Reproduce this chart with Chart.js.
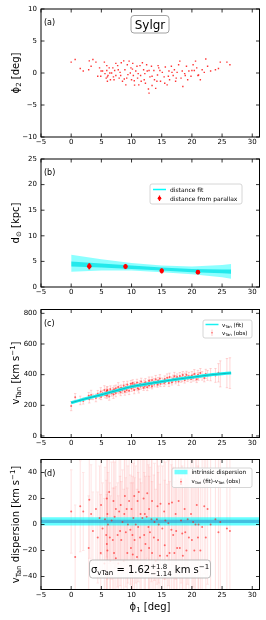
<!DOCTYPE html>
<html>
<head>
<meta charset="utf-8">
<script src="https://cdn.jsdelivr.net/npm/chart.js@4.4.0/dist/chart.umd.min.js"></script>
<style>
html, body { margin: 0; padding: 0; background: #fff; }
#wrap { position: relative; width: 266px; height: 620px; overflow: hidden; }
canvas { position: absolute; left: 0; }
</style>
</head>
<body>
<div id="wrap">
<canvas id="pa" width="266" height="150" style="top:0px"></canvas>
<canvas id="pb" width="266" height="150" style="top:150px"></canvas>
<canvas id="pc" width="266" height="150" style="top:300px"></canvas>
<canvas id="pd" width="266" height="170" style="top:450px"></canvas>
</div>
<script>
// ---- data ----
const xMin = -5, xMax = 31.2;
const xTicks = [-5, 0, 5, 10, 15, 20, 25, 30];

const phi1 = [0.0,0.66,1.5,2.0,2.9,3.0,3.3,3.6,4.1,4.4,
  4.7,4.9,4.95,5.2,5.5,5.6,5.8,5.9,5.9,6.0,
  6.0,6.1,6.3,6.4,6.5,6.7,6.9,7.0,7.1,7.2,
  7.4,7.4,7.7,7.8,7.95,8.1,8.2,8.3,8.5,8.7,
  8.8,8.9,9.05,9.2,9.3,9.4,9.6,9.8,9.9,10.0,
  10.15,10.2,10.3,10.45,10.5,10.7,10.9,11.0,11.1,11.2,
  11.4,11.5,11.6,11.8,12.0,12.1,12.2,12.3,12.5,12.6,
  12.8,12.9,12.9,13.05,13.3,13.4,13.4,13.7,13.8,14.0,
  14.2,14.3,14.4,14.5,14.7,14.8,15.1,15.4,15.5,15.6,
  15.9,16.1,16.2,16.3,16.6,16.7,16.9,17.1,17.3,17.4,
  17.55,17.8,18.0,18.2,18.4,18.5,18.8,18.9,19.1,19.3,
  19.5,19.85,20.0,20.2,20.4,20.6,20.8,21.0,21.1,21.4,
  21.7,22.05,22.3,22.6,23.1,23.9,24.4,24.7,25.8,26.3];

const phi2 = [1.7,2.1,0.7,0.3,0.5,1.9,1.05,2.1,1.7,-0.5,
  0.8,-0.5,0.3,0.3,1.7,-0.1,-0.8,0.4,1.15,-1.3,
  -0.6,-0.4,0.8,0,-1.05,0,0.8,-0.6,-1.05,0.4,
  -0.4,1.5,1.15,0.5,-0.8,0.1,-0.4,1.6,-1.3,1.9,
  -0.95,0.5,-1.85,-0.8,1.3,-0.25,1.85,0,0.8,-1.05,
  0.6,1.5,-0.4,-1.2,-1.9,0.3,1.05,-0.8,-0.1,-1.85,
  1.15,-0.4,-1.3,1.6,0.5,-1.05,-0.1,-1.6,1.3,0.3,
  -2.5,-3.15,0.4,-0.6,1.05,-1.95,-0.5,0.4,-1.05,-2.4,
  -1.3,-0.3,1.15,0.8,0.4,-1.3,0.1,-0.6,-1.6,0.95,
  -1.85,-0.5,0.3,-1.05,1.05,0.1,-0.4,0.5,-1.3,-0.8,
  0.1,1.3,1.85,-0.8,0.3,-2.1,-0.1,-0.4,1.05,-1.05,
  0.3,-0.5,0.4,1.3,0.4,1.85,0.8,-0.4,-0.3,-1.05,
  0.5,0.1,2.2,1.05,0.3,0.5,0.7,1.7,1.7,1.3];

// distance panel
const distX = [3, 9, 15, 21];
const distY = [4.05, 4.0, 3.15, 2.9];
const distErr = [0.6, 0.5, 0.5, 0.4];
const fitX = [0, 5, 10, 15, 20, 25, 26.5];
const distOuterHi = [6.3, 5.4, 4.7, 4.2, 4.0, 4.3, 4.5];
const distOuterLo = [3.0, 3.2, 3.2, 2.9, 2.5, 1.9, 1.6];
const distCoreHi = [5.0, 4.6, 4.2, 3.8, 3.5, 3.4, 3.4];
const distCoreLo = [4.0, 3.8, 3.5, 3.2, 2.9, 2.7, 2.6];

// tangential velocity panel
const vFitX = [0, 2.5, 5, 7.5, 10, 12.5, 15, 17.5, 20, 22.5, 25, 26.5];
const vFitY = [217, 244, 269, 296, 322, 339, 355, 370, 383, 396, 406, 411];
const vObs = [195,252,232,228,262,240,268,255,248,275,
  262,290,255,278,300,268,285,262,295,272,
  300,282,258,290,305,278,296,270,305,288,
  312,280,300,320,292,310,285,315,298,330,
  305,288,318,300,335,312,295,325,340,310,
  330,345,318,300,335,322,348,312,330,305,
  340,322,355,330,315,342,328,350,335,318,
  345,360,330,348,338,365,325,352,340,370,
  345,335,360,348,375,340,358,345,372,352,
  380,360,345,385,365,350,375,390,360,372,
  385,355,392,370,380,398,365,385,400,375,
  390,372,395,380,405,385,370,400,388,410,
  392,378,405,395,400,395,412,405,410,410];
const vErr = [30,25,28,20,22,25,30,18,25,22,
  20,25,18,20,28,20,22,18,25,20,
  22,18,25,20,22,18,20,25,22,18,
  20,24,20,28,18,20,22,18,20,25,
  18,22,20,18,22,20,25,18,22,20,
  18,22,20,25,18,20,22,18,20,25,
  20,18,22,20,18,22,20,25,18,22,
  20,25,18,20,22,20,18,22,20,25,
  20,18,22,20,25,18,20,22,20,18,
  25,20,22,25,20,18,22,25,20,22,
  20,25,22,20,25,22,20,25,22,20,
  25,22,25,22,28,25,22,28,25,30,
  28,25,30,32,40,45,60,85,95,100];

// dispersion panel
const resid = [10,-25,14,10,-18,19,8,-5,12,-10,
  5,-22,15,-3,-30,4,-8,20,-15,8,
  -20,0,25,-10,-28,3,-12,18,-22,6,
  -26,12,-8,-30,10,-5,15,-12,2,-28,
  8,22,-6,12,-22,0,18,-4,-18,12,
  -8,-23,5,22,-12,0,-25,18,-2,25,
  -10,8,-20,5,20,-8,8,-15,6,24,
  -2,-18,12,-6,4,-22,18,-10,2,-28,
  4,14,-12,0,-24,16,-3,10,-16,3,
  -24,1,16,-22,-4,17,-8,-22,8,-5,
  -18,18,-18,3,-7,-24,12,-6,-20,4,
  -10,8,-12,2,-20,0,15,-10,0,-20,
  -2,14,-10,12,0,4,-6,2,-3,-5];
const residErr = [32,40,35,30,40,45,38,30,42,35,
  40,45,38,35,50,40,42,45,38,50,
  45,40,55,42,50,45,40,48,50,42,
  55,45,40,52,45,42,48,45,40,55,
  45,50,42,48,50,45,52,42,50,48,
  45,55,42,50,48,45,52,48,42,55,
  45,48,52,45,50,48,45,52,45,50,
  48,55,45,50,48,55,50,48,45,55,
  50,48,52,45,55,50,48,52,50,45,
  55,48,52,55,50,48,52,55,50,48,
  52,55,50,48,52,55,50,48,55,50,
  52,48,55,50,55,52,50,55,52,58,
  55,52,60,58,60,62,65,70,70,75];
const bandX = [xMin, xMax];
const bandOuter = [-0.8, 5.5];
const bandInner = [1.1, 3.7];

// ---- helpers ----
const FONT = '"DejaVu Sans", sans-serif';
Chart.defaults.font.family = FONT;
Chart.defaults.color = '#000';

function pts(xs, ys) { return xs.map((x, i) => ({ x: x, y: ys[i] })); }
function flat(level) { return bandX.map(x => ({ x: x, y: level })); }
function fmt(v) { return v < 0 ? '\u2212' + Math.abs(v) : String(v); }

function segW(ctx, s, size) {
  const [t, k, t2] = s;
  if (!k) { ctx.font = size + 'px ' + FONT; return ctx.measureText(t).width; }
  ctx.font = (size * 0.7) + 'px ' + FONT;
  if (k === 'ss') return Math.max(ctx.measureText(t).width, ctx.measureText(t2).width);
  return ctx.measureText(t).width;
}

function drawRich(ctx, segs, x, y, size, align) {
  let total = 0;
  segs.forEach(s => { total += segW(ctx, s, size); });
  let cx = align === 'center' ? x - total / 2 : (align === 'right' ? x - total : x);
  ctx.textAlign = 'left';
  ctx.textBaseline = 'alphabetic';
  segs.forEach(s => {
    const w = segW(ctx, s, size);
    const [t, k, t2] = s;
    if (!k) ctx.fillText(t, cx, y);
    else if (k === 'sub') ctx.fillText(t, cx, y + size * 0.22);
    else if (k === 'sup') ctx.fillText(t, cx, y - size * 0.4);
    else { ctx.fillText(t, cx, y - size * 0.42); ctx.fillText(t2, cx, y + size * 0.26); }
    cx += w;
  });
}

function yTitle(ctx, segs, cy) {
  ctx.save();
  ctx.translate(15, cy);
  ctx.rotate(-Math.PI / 2);
  ctx.fillStyle = '#000';
  drawRich(ctx, segs, 0, 3.5, 10, 'center');
  ctx.restore();
}

function roundBox(ctx, x, y, w, h, r, stroke, fill) {
  ctx.beginPath();
  ctx.roundRect(x, y, w, h, r);
  ctx.fillStyle = fill;
  ctx.fill();
  ctx.strokeStyle = stroke;
  ctx.lineWidth = 0.8;
  ctx.stroke();
}

function label(ctx, txt, x, y) {
  ctx.fillStyle = '#000';
  ctx.font = '8px ' + FONT;
  ctx.textAlign = 'left';
  ctx.textBaseline = 'alphabetic';
  ctx.fillText(txt, x, y);
}

// frame and inward ticks on all four sides
const frameTicks = {
  id: 'frameTicks',
  afterDraw(chart) {
    const { ctx, chartArea: a, scales: { x, y } } = chart;
    ctx.save();
    ctx.strokeStyle = '#000';
    ctx.lineWidth = 0.8;
    ctx.beginPath();
    x.ticks.forEach(t => {
      const px = x.getPixelForValue(t.value);
      ctx.moveTo(px, a.bottom); ctx.lineTo(px, a.bottom - 3.5);
      ctx.moveTo(px, a.top); ctx.lineTo(px, a.top + 3.5);
    });
    y.ticks.forEach(t => {
      const py = y.getPixelForValue(t.value);
      ctx.moveTo(a.left, py); ctx.lineTo(a.left + 3.5, py);
      ctx.moveTo(a.right, py); ctx.lineTo(a.right - 3.5, py);
    });
    ctx.stroke();
    ctx.lineWidth = 1;
    ctx.strokeRect(a.left, a.top, a.right - a.left, a.bottom - a.top);
    ctx.restore();
  }
};

function errorBars(id, xs, ys, errs, color, width, cap) {
  return {
    id: id,
    beforeDatasetsDraw(chart) {
      const { ctx, chartArea: a, scales: { x, y } } = chart;
      ctx.save();
      ctx.beginPath();
      ctx.rect(a.left, a.top, a.right - a.left, a.bottom - a.top);
      ctx.clip();
      ctx.strokeStyle = color;
      ctx.lineWidth = width;
      xs.forEach((xv, i) => {
        const px = x.getPixelForValue(xv);
        const p1 = y.getPixelForValue(ys[i] - errs[i]);
        const p2 = y.getPixelForValue(ys[i] + errs[i]);
        ctx.beginPath();
        ctx.moveTo(px, p1); ctx.lineTo(px, p2);
        if (cap) {
          ctx.moveTo(px - cap, p1); ctx.lineTo(px + cap, p1);
          ctx.moveTo(px - cap, p2); ctx.lineTo(px + cap, p2);
        }
        ctx.stroke();
      });
      ctx.restore();
    }
  };
}

function scales(yMin, yMax, yTicks, xH) {
  return {
    x: {
      type: 'linear', min: xMin, max: xMax,
      grid: { display: false, drawTicks: false }, border: { display: false },
      afterBuildTicks: s => { s.ticks = xTicks.map(v => ({ value: v })); },
      afterFit: s => { s.height = xH; },
      ticks: { padding: 1, font: { size: 7 }, maxRotation: 0, autoSkip: false, callback: v => fmt(v) }
    },
    y: {
      type: 'linear', min: yMin, max: yMax,
      grid: { display: false, drawTicks: false }, border: { display: false },
      afterBuildTicks: s => { s.ticks = yTicks.map(v => ({ value: v })); },
      afterFit: s => { s.width = 41; },
      ticks: { padding: 4, font: { size: 7 }, autoSkip: false, callback: v => fmt(v) }
    }
  };
}

function baseOptions(yMin, yMax, yTicks, top, xH) {
  return {
    responsive: false,
    animation: false,
    events: [],
    layout: { padding: { top: top, right: 6.5, left: 0, bottom: 0 } },
    plugins: { legend: { display: false }, tooltip: { enabled: false } },
    scales: scales(yMin, yMax, yTicks, xH)
  };
}

// ---- panel (a) ----
new Chart(document.getElementById('pa'), {
  type: 'scatter',
  data: {
    datasets: [{
      data: pts(phi1, phi2),
      pointStyle: 'rect', pointRadius: 1, borderWidth: 0,
      backgroundColor: 'rgba(255,0,0,0.8)'
    }]
  },
  options: baseOptions(-10, 10, [-10, -5, 0, 5, 10], 9, 13),
  plugins: [frameTicks, {
    id: 'decoA',
    afterDraw(chart) {
      const ctx = chart.ctx;
      ctx.save();
      label(ctx, '(a)', 44, 25);
      roundBox(ctx, 131, 15.5, 38, 17.5, 3, '#8c8c8c', 'rgba(255,255,255,0.9)');
      ctx.fillStyle = '#000';
      ctx.font = '12px ' + FONT;
      ctx.textAlign = 'center';
      ctx.fillText('Sylgr', 150, 28.5);
      yTitle(ctx, [['\u03d5'], ['2', 'sub'], [' [deg]']], 73);
      ctx.restore();
    }
  }]
});

// ---- panel (b) ----
new Chart(document.getElementById('pb'), {
  type: 'scatter',
  data: {
    datasets: [
      { data: pts(distX, distY), pointRadius: 2.3, borderWidth: 0, backgroundColor: '#ff0000' },
      { type: 'line', data: pts(fitX, distCoreHi), borderWidth: 0, pointRadius: 0, fill: '+1', backgroundColor: 'rgba(0,225,230,0.75)' },
      { type: 'line', data: pts(fitX, distCoreLo), borderWidth: 0, pointRadius: 0, fill: false },
      { type: 'line', data: pts(fitX, distOuterHi), borderWidth: 0, pointRadius: 0, fill: '+1', backgroundColor: 'rgba(0,255,255,0.45)' },
      { type: 'line', data: pts(fitX, distOuterLo), borderWidth: 0, pointRadius: 0, fill: false }
    ]
  },
  options: baseOptions(0, 25, [0, 5, 10, 15, 20, 25], 9, 13),
  plugins: [frameTicks, {
    id: 'errB',
    afterDatasetsDraw(chart) {
      const { ctx, scales: { x, y } } = chart;
      ctx.save();
      ctx.strokeStyle = '#ff0000';
      ctx.lineWidth = 1.8;
      distX.forEach((xv, i) => {
        const px = x.getPixelForValue(xv);
        ctx.beginPath();
        ctx.moveTo(px, y.getPixelForValue(distY[i] - distErr[i]));
        ctx.lineTo(px, y.getPixelForValue(distY[i] + distErr[i]));
        ctx.stroke();
      });
      ctx.restore();
    }
  }, {
    id: 'decoB',
    afterDraw(chart) {
      const ctx = chart.ctx;
      ctx.save();
      label(ctx, '(b)', 44, 25);
      roundBox(ctx, 150, 34, 92, 20, 2, '#cccccc', 'rgba(255,255,255,0.85)');
      ctx.strokeStyle = '#00ffff';
      ctx.lineWidth = 1.5;
      ctx.beginPath(); ctx.moveTo(153, 39.5); ctx.lineTo(166, 39.5); ctx.stroke();
      ctx.strokeStyle = '#ff0000';
      ctx.lineWidth = 1.2;
      ctx.beginPath(); ctx.moveTo(159.5, 45.5); ctx.lineTo(159.5, 51); ctx.stroke();
      ctx.fillStyle = '#ff0000';
      ctx.beginPath(); ctx.arc(159.5, 48.3, 1.8, 0, Math.PI * 2); ctx.fill();
      ctx.fillStyle = '#000';
      ctx.font = '6px ' + FONT;
      ctx.textAlign = 'left';
      ctx.fillText('distance fit', 170, 41.5);
      ctx.fillText('distance from parallax', 170, 50.5);
      yTitle(ctx, [['d'], ['\u2299', 'sub'], [' [kpc]']], 73);
      ctx.restore();
    }
  }]
});

// ---- panel (c) ----
new Chart(document.getElementById('pc'), {
  type: 'scatter',
  data: {
    datasets: [
      { type: 'line', data: pts(vFitX, vFitY), borderColor: 'rgba(0,110,120,0.55)', borderWidth: 0.8, pointRadius: 0, tension: 0.3, fill: false },
      { type: 'line', data: pts(vFitX, vFitY), borderColor: '#19f0f0', borderWidth: 3, pointRadius: 0, tension: 0.3, fill: false },
      { data: pts(phi1, vObs), pointRadius: 1, borderWidth: 0, backgroundColor: 'rgba(255,0,0,0.55)' }
    ]
  },
  options: baseOptions(-10, 825, [0, 200, 400, 600, 800], 9.5, 12.5),
  plugins: [frameTicks,
    errorBars('errC', phi1, vObs, vErr, 'rgba(255,90,90,0.28)', 0.9, 1.2),
    {
      id: 'decoC',
      afterDraw(chart) {
        const ctx = chart.ctx;
        ctx.save();
        label(ctx, '(c)', 44, 25.5);
        roundBox(ctx, 203, 20, 49, 18, 2, '#cccccc', 'rgba(255,255,255,0.85)');
        ctx.strokeStyle = '#19f0f0';
        ctx.lineWidth = 1.5;
        ctx.beginPath(); ctx.moveTo(205.5, 24.5); ctx.lineTo(218.5, 24.5); ctx.stroke();
        ctx.strokeStyle = 'rgba(255,90,90,0.4)';
        ctx.lineWidth = 0.8;
        ctx.beginPath(); ctx.moveTo(212, 29.5); ctx.lineTo(212, 36); ctx.stroke();
        ctx.fillStyle = 'rgba(255,0,0,0.5)';
        ctx.fillRect(211.3, 32, 1.4, 1.4);
        ctx.fillStyle = '#000';
        drawRich(ctx, [['v'], ['Tan', 'sub'], [' (fit)']], 222, 26.5, 5.5, 'left');
        drawRich(ctx, [['v'], ['Tan', 'sub'], [' (obs)']], 222, 34.5, 5.5, 'left');
        yTitle(ctx, [['v'], ['Tan', 'sub'], [' [km s'], ['\u22121', 'sup'], [']']], 73);
        ctx.restore();
      }
    }]
});

// ---- panel (d) ----
new Chart(document.getElementById('pd'), {
  type: 'scatter',
  data: {
    datasets: [
      { data: pts(phi1, resid), pointRadius: 1, borderWidth: 0, backgroundColor: 'rgba(255,0,0,0.55)' },
      { type: 'line', data: flat(bandInner[1]), borderWidth: 0, pointRadius: 0, fill: '+1', backgroundColor: 'rgba(40,140,200,0.55)' },
      { type: 'line', data: flat(bandInner[0]), borderWidth: 0, pointRadius: 0, fill: false },
      { type: 'line', data: flat(bandOuter[1]), borderWidth: 0, pointRadius: 0, fill: '+1', backgroundColor: 'rgba(0,255,255,0.6)' },
      { type: 'line', data: flat(bandOuter[0]), borderWidth: 0, pointRadius: 0, fill: false }
    ]
  },
  options: baseOptions(-50, 50, [-40, -20, 0, 20, 40], 9.5, 30.5),
  plugins: [frameTicks,
    errorBars('errD', phi1, resid, residErr, 'rgba(255,110,110,0.18)', 1.1, 1.2),
    {
      id: 'decoD',
      afterDraw(chart) {
        const ctx = chart.ctx;
        ctx.save();
        label(ctx, '(d)', 44, 26);
        roundBox(ctx, 172, 18, 80, 19.5, 2, '#cccccc', 'rgba(255,255,255,0.85)');
        ctx.fillStyle = 'rgba(0,255,255,0.55)';
        ctx.fillRect(174.5, 19.8, 13, 4.5);
        ctx.strokeStyle = 'rgba(255,90,90,0.45)';
        ctx.lineWidth = 0.8;
        ctx.beginPath(); ctx.moveTo(181, 28.5); ctx.lineTo(181, 35); ctx.stroke();
        ctx.fillStyle = 'rgba(255,0,0,0.6)';
        ctx.fillRect(180.3, 31, 1.4, 1.4);
        ctx.fillStyle = '#000';
        ctx.font = '5.8px ' + FONT;
        ctx.textAlign = 'left';
        ctx.fillText('intrinsic dispersion', 191.5, 24.3);
        drawRich(ctx, [['v'], ['Tan', 'sub'], [' (fit)-v'], ['Tan', 'sub'], [' (obs)']], 191.5, 33, 5.5, 'left');
        roundBox(ctx, 89.5, 110, 121, 18, 3, '#aaaaaa', 'rgba(255,255,255,0.85)');
        ctx.fillStyle = '#000';
        drawRich(ctx, [['\u03c3'], ['vTan', 'sub'], [' = 1.62'], ['+1.8', 'ss', '\u22121.14'], [' km s'], ['\u22121', 'sup']], 150, 123, 10, 'center');
        yTitle(ctx, [['v'], ['Tan', 'sub'], [' dispersion [km s'], ['\u22121', 'sup'], [']']], 74.5);
        drawRich(ctx, [['\u03d5'], ['1', 'sub'], [' [deg]']], 150, 159.5, 10, 'center');
        ctx.restore();
      }
    }]
});
</script>
</body>
</html>
